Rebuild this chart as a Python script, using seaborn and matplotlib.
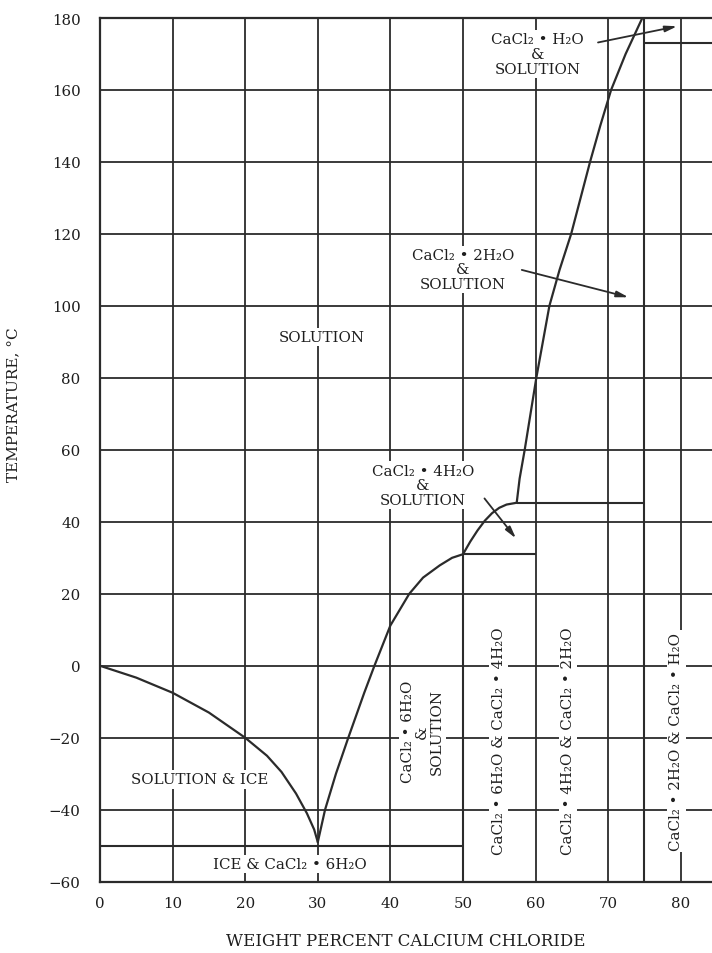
import matplotlib
matplotlib.use("Agg")
import matplotlib.pyplot as plt
import seaborn as sns
import pandas as pd

# liquidus curves (weight %, temperature degC)
ice_x = [0, 5, 10, 15, 20, 23, 25, 27, 28.5, 29.5, 30]
ice_t = [0, -3.3, -7.5, -13, -20, -25, -29.5, -35.5, -41, -45.5, -49]

hexa_x = [30, 31, 32.5, 34.2, 36.4, 37.8, 40, 42.6, 44.5, 46.8, 48.5, 50]
hexa_t = [-49, -40, -30, -20, -7.5, 0, 11.2, 20, 24.5, 27.9, 30, 31]

tetra_x = [50, 51, 52, 53, 54, 55, 56, 57.4]
tetra_t = [31, 34.5, 37.6, 40.3, 42.4, 43.9, 44.8, 45.3]

di_x = [57.4, 57.8, 58.5, 59.3, 60.1, 61, 61.9, 63.3, 64.9, 66.2, 67.5, 68.9, 70.4, 72.4, 74.7]
di_t = [45.3, 52, 60, 70, 80, 90, 100, 110, 120, 130, 140, 150, 160, 170, 180]

# horizontal phase boundaries: (temperature, x from, x to)
h_temp = [-50, 31, 45.3, 173]
h_from = [0, 50, 57.4, 75]
h_to = [50, 60, 75, 84.3]
# vertical phase boundaries
v_pos = [50, 75]
v_from = [-60, -60]
v_to = [31, 180]

x_ticks = [0, 10, 20, 30, 40, 50, 60, 70, 80]
y_ticks = [-60, -40, -20, 0, 20, 40, 60, 80, 100, 120, 140, 160, 180]

curves = pd.concat([
    pd.DataFrame({"pct": ice_x, "temp": ice_t, "phase": "ice"}),
    pd.DataFrame({"pct": hexa_x, "temp": hexa_t, "phase": "6H2O"}),
    pd.DataFrame({"pct": tetra_x, "temp": tetra_t, "phase": "4H2O"}),
    pd.DataFrame({"pct": di_x, "temp": di_t, "phase": "2H2O"}),
])

sns.set_style("white")
plt.rcParams["font.family"] = ["DejaVu Serif", "DejaVu Sans"]

ink = "#2b2b2b"
fig = plt.figure(figsize=(7.12, 9.54), dpi=100)
ax = fig.add_axes([100 / 712, 1 - 882.7 / 954, 612 / 712, 863.7 / 954])

for name, grp in curves.groupby("phase", sort=False):
    sns.lineplot(data=grp, x="pct", y="temp", sort=False, estimator=None,
                 color=ink, lw=1.6, ax=ax, zorder=4)

ax.hlines(h_temp, h_from, h_to, color=ink, lw=1.5, zorder=4)
ax.vlines(v_pos, v_from, v_to, color=ink, lw=1.5, zorder=4)

ax.set_xlim(0, 84.3)
ax.set_ylim(-60, 180)
ax.set_xticks(x_ticks)
ax.set_yticks(y_ticks)
ax.set_axisbelow(True)
ax.grid(True, color=ink, lw=1.3)
ax.tick_params(length=0, labelsize=10.8, colors="#1e1e1e")
ax.tick_params(axis="x", pad=10)
ax.tick_params(axis="y", pad=14)
for s in ["left", "bottom", "top"]:
    ax.spines[s].set_color(ink)
    ax.spines[s].set_linewidth(1.6)
ax.spines["right"].set_visible(False)

ax.set_xlabel("WEIGHT PERCENT CALCIUM CHLORIDE", fontsize=12, labelpad=16, color="#1e1e1e")
ax.set_ylabel("TEMPERATURE, °C", fontsize=11, color="#1e1e1e")
ax.yaxis.set_label_coords(-0.13, 0.554)

box = dict(facecolor="white", edgecolor="none", pad=1.5)
tkw = dict(ha="center", va="center", fontsize=10.8, color="#1e1e1e", bbox=box,
           zorder=3, linespacing=1.05)

ax.text(60.3, 170, "CaCl₂ • H₂O\n&\nSOLUTION", **tkw)
ax.text(50, 110.2, "CaCl₂ • 2H₂O\n&\nSOLUTION", **tkw)
ax.text(30.6, 91.3, "SOLUTION", **tkw)
ax.text(44.5, 50.2, "CaCl₂ • 4H₂O\n&\nSOLUTION", **tkw)
ax.text(13.8, -31.6, "SOLUTION & ICE", **tkw)
ax.text(26.2, -55, "ICE & CaCl₂ • 6H₂O", **tkw)
ax.text(44.4, -18.2, "CaCl₂ • 6H₂O\n&\nSOLUTION", rotation=90, **tkw)
ax.text(54.9, -20.8, "CaCl₂ • 6H₂O & CaCl₂ • 4H₂O", rotation=90, **tkw)
ax.text(64.5, -20.8, "CaCl₂ • 4H₂O & CaCl₂ • 2H₂O", rotation=90, **tkw)
ax.text(79.4, -21, "CaCl₂ • 2H₂O & CaCl₂ • H₂O", rotation=90, **tkw)

arrow = dict(arrowstyle="-|>,head_length=0.7,head_width=0.18", color=ink, lw=1.3,
             shrinkA=0, shrinkB=0)
ax.annotate("", xy=(79.5, 177.7), xytext=(68.6, 173.2), arrowprops=arrow, zorder=5)
ax.annotate("", xy=(72.8, 102.4), xytext=(58.1, 110), arrowprops=arrow, zorder=5)
ax.annotate("", xy=(57.3, 35.4), xytext=(52.96, 46.5), arrowprops=arrow, zorder=5)

fig.savefig("out.png", dpi=100)
